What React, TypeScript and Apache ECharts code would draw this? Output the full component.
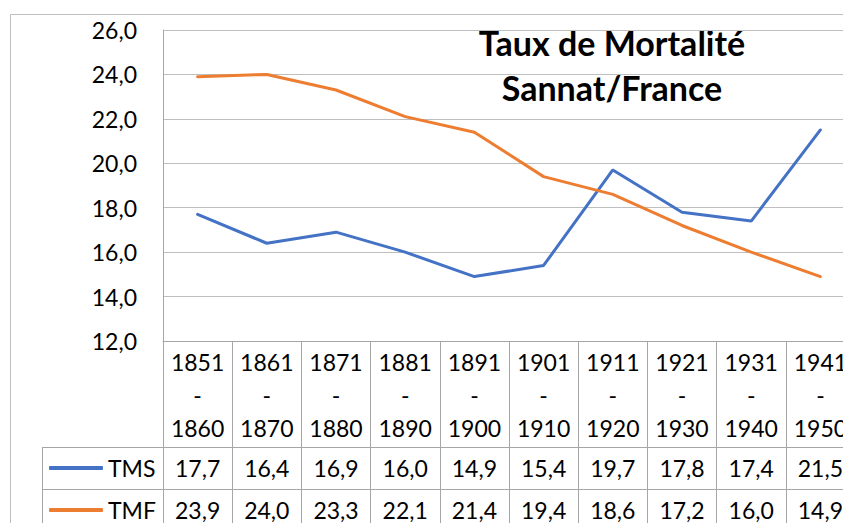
import React, { useEffect, useRef } from 'react';
import * as echarts from 'echarts';

const categories = [
  '1851\n-\n1860', '1861\n-\n1870', '1871\n-\n1880', '1881\n-\n1890', '1891\n-\n1900',
  '1901\n-\n1910', '1911\n-\n1920', '1921\n-\n1930', '1931\n-\n1940', '1941\n-\n1950',
];
const tms = [17.7, 16.4, 16.9, 16.0, 14.9, 15.4, 19.7, 17.8, 17.4, 21.5];
const tmf = [23.9, 24.0, 23.3, 22.1, 21.4, 19.4, 18.6, 17.2, 16.0, 14.9];
const seriesNames = ['TMS', 'TMF'];
const titleText = 'Taux de Mortalité\nSannat/France';
const yMin = 12;
const yMax = 26;
const yInterval = 2;

const fmt = (v: number) => v.toFixed(1).replace('.', ',');

const FONT = 'Lato, "Open Sans", sans-serif';
const GRID_COLOR = '#bfbfbf';
const TABLE_COLOR = '#a6a6a6';
const BLUE = '#4472c4';
const ORANGE = '#ed7d31';

export default function App() {
  const ref = useRef<HTMLDivElement>(null);
  useEffect(() => {
    if (!ref.current) return;
    const chart = echarts.init(ref.current, undefined, { renderer: 'svg' });
    const gridLeft = 163;
    const gridTop = 30;
    const gridH = 311;
    const axisY = gridTop + gridH;
    const row1 = 447;
    const row2 = 489;
    const labelStyle = { color: '#000', fontSize: 23, fontFamily: FONT };
    const legendBase = {
      orient: 'horizontal',
      left: 49,
      itemWidth: 54,
      itemHeight: 4,
      icon: 'roundRect',
      padding: 0,
      textStyle: { ...labelStyle, lineHeight: 24, padding: [0, 0, 0, 0] },
    };
    chart.setOption({
      animation: false,
      backgroundColor: '#fff',
      grid: { left: gridLeft, top: gridTop, width: 692, height: gridH },
      legend: [
        { ...legendBase, data: [seriesNames[0]], top: row1 + 9 },
        { ...legendBase, data: [seriesNames[1]], top: row2 + 9 },
      ],
      xAxis: [
        {
          type: 'category',
          data: categories,
          boundaryGap: true,
          axisLine: { show: true, lineStyle: { color: TABLE_COLOR, width: 1 } },
          axisTick: { show: true, length: 190, interval: 0, lineStyle: { color: TABLE_COLOR, width: 1 } },
          axisLabel: { ...labelStyle, interval: 0, lineHeight: 33, margin: 4 },
          splitLine: { show: false },
        },
        {
          type: 'category',
          data: tms.map(fmt),
          position: 'bottom',
          offset: row1 - axisY,
          axisLine: { show: false },
          axisTick: { show: false },
          axisLabel: { ...labelStyle, interval: 0, lineHeight: 24, margin: 9 },
        },
        {
          type: 'category',
          data: tmf.map(fmt),
          position: 'bottom',
          offset: row2 - axisY,
          axisLine: { show: false },
          axisTick: { show: false },
          axisLabel: { ...labelStyle, interval: 0, lineHeight: 24, margin: 9 },
        },
      ],
      yAxis: {
        type: 'value',
        min: yMin,
        max: yMax,
        interval: yInterval,
        axisLine: { show: true, lineStyle: { color: TABLE_COLOR, width: 1 } },
        axisTick: { show: false },
        axisLabel: { ...labelStyle, margin: 26, formatter: (v: number) => fmt(v) },
        splitLine: { show: true, lineStyle: { color: GRID_COLOR, width: 1 } },
      },
      series: [
        {
          name: seriesNames[0],
          type: 'line',
          data: tms,
          xAxisIndex: 0,
          symbol: 'none',
          lineStyle: { color: BLUE, width: 3, cap: 'round' },
          itemStyle: { color: BLUE },
        },
        {
          name: seriesNames[1],
          type: 'line',
          data: tmf,
          xAxisIndex: 0,
          symbol: 'none',
          lineStyle: { color: ORANGE, width: 3, cap: 'round' },
          itemStyle: { color: ORANGE },
        },
      ],
      graphic: [
        {
          type: 'rect',
          shape: { x: 10.5, y: 14.5, width: 900, height: 600 },
          style: { fill: 'none', stroke: GRID_COLOR, lineWidth: 1 },
          silent: true,
        },
        {
          type: 'line',
          shape: { x1: 42, y1: row1 + 0.5, x2: 900, y2: row1 + 0.5 },
          style: { stroke: TABLE_COLOR, lineWidth: 1 },
        },
        {
          type: 'line',
          shape: { x1: 42, y1: row2 + 0.5, x2: 900, y2: row2 + 0.5 },
          style: { stroke: TABLE_COLOR, lineWidth: 1 },
        },
        {
          type: 'line',
          shape: { x1: 42.5, y1: row1, x2: 42.5, y2: 540 },
          style: { stroke: TABLE_COLOR, lineWidth: 1 },
        },
        {
          type: 'text',
          x: 612,
          y: 20,
          style: {
            text: titleText,
            textAlign: 'center',
            fill: '#000',
            fontSize: 34,
            fontWeight: 'bold',
            fontFamily: FONT,
            lineHeight: 45,
          },
        },
      ],
    });
    return () => chart.dispose();
  }, []);
  return (
    <div style={{ position: 'absolute', left: 0, top: 0, width: 843, height: 523, overflow: 'hidden' }}>
      <div ref={ref} style={{ position: 'absolute', left: 0, top: 0, width: 880, height: 523 }} />
    </div>
  );
}
